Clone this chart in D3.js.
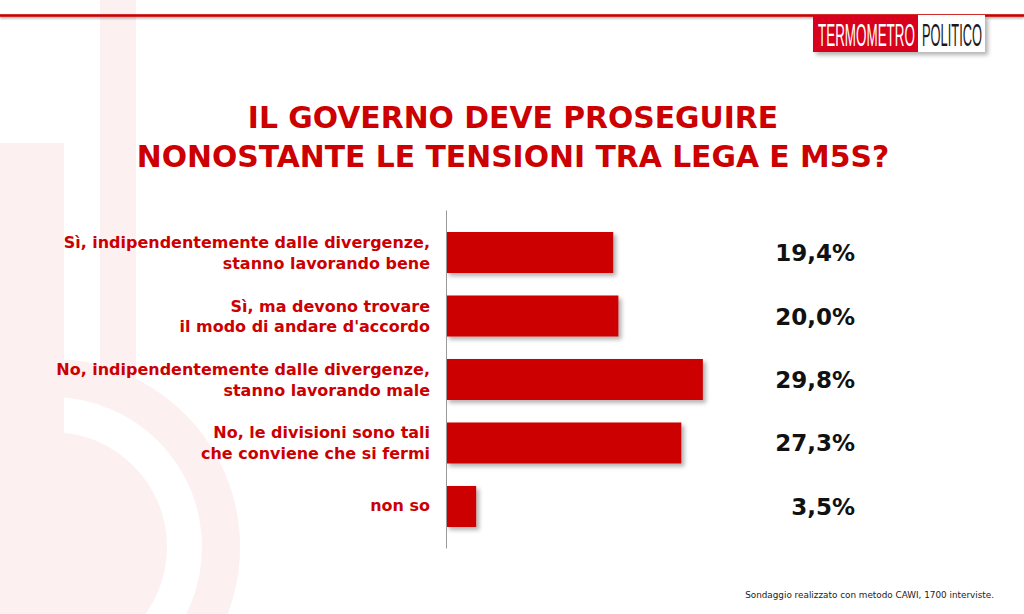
<!DOCTYPE html>
<html><head><meta charset="utf-8">
<script src="https://cdn.jsdelivr.net/npm/d3@7"></script>
<style>html,body{margin:0;padding:0;background:#fff;}svg{display:block;}</style>
</head><body>
<svg id="chart" width="1024" height="614"></svg>
<script>
const categories = [
  ["Sì, indipendentemente dalle divergenze,", "stanno lavorando bene"],
  ["Sì, ma devono trovare", "il modo di andare d'accordo"],
  ["No, indipendentemente dalle divergenze,", "stanno lavorando male"],
  ["No, le divisioni sono tali", "che conviene che si fermi"],
  ["non so"]
];
const values = [19.4, 20.0, 29.8, 27.3, 3.5];
const titleLines = ["IL GOVERNO DEVE PROSEGUIRE", "NONOSTANTE LE TENSIONI TRA LEGA E M5S?"];
const footnote = "Sondaggio realizzato con metodo CAWI, 1700 interviste.";
const logoParts = ["TERMOMETRO", "POLITICO"];

const RED = "#cc0000";
const svg = d3.select("#chart");
const defs = svg.append("defs");
const f = defs.append("filter").attr("id","shadow").attr("x","-10%").attr("y","-20%").attr("width","130%").attr("height","160%");
f.append("feDropShadow").attr("dx",3).attr("dy",3).attr("stdDeviation",2).attr("flood-color","#000").attr("flood-opacity",0.3);
const f2 = defs.append("filter").attr("id","lineshadow").attr("filterUnits","userSpaceOnUse")
  .attr("x",0).attr("y",0).attr("width",1024).attr("height",40);
f2.append("feDropShadow").attr("dx",0).attr("dy",1.5).attr("stdDeviation",1).attr("flood-color","#000").attr("flood-opacity",0.35);

// watermark (thermometer logo)
const wm = svg.append("g").attr("fill","#fcf0f0");
wm.append("rect").attr("x",100).attr("y",-10).attr("width",36).attr("height",418).attr("rx",8);
wm.append("rect").attr("x",0).attr("y",143).attr("width",64).attr("height",404);
wm.append("circle").attr("cx",52).attr("cy",547).attr("r",115);
wm.append("path")
  .attr("d", d3.arc()({innerRadius:150, outerRadius:188, startAngle:0, endAngle:2*Math.PI}))
  .attr("transform","translate(52,547)");

// top line
svg.append("rect").attr("x",0).attr("y",14.2).attr("width",1024).attr("height",2.6)
  .attr("fill",RED).attr("filter","url(#lineshadow)");

// logo
const logo = svg.append("g");
logo.append("rect").attr("x",813).attr("y",15).attr("width",172).attr("height",37).attr("fill","#fff").attr("filter","url(#shadow)");
logo.append("rect").attr("x",813).attr("y",15).attr("width",105).attr("height",37).attr("fill","#d8001c");
function logoText(str, x0, target, fill){
  const t = logo.append("text").attr("x",0).attr("y",0).attr("font-family","Liberation Sans, Arial, sans-serif")
    .attr("font-size",31).attr("fill",fill).text(str);
  const w = t.node().getComputedTextLength();
  t.attr("transform",`translate(${x0},45.5) scale(${target/w},1)`);
}
logoText(logoParts[0], 818, 97, "#fff");
logoText(logoParts[1], 922, 60, "#1a1a1a");

const FONT = "DejaVu Sans, Verdana, sans-serif";
function fit(sel, target){
  const w = sel.node().getComputedTextLength();
  const fs = parseFloat(sel.attr("font-size"));
  return fs * target / w;
}

// title
const t1 = svg.append("text").attr("x",513).attr("y",128).attr("text-anchor","middle")
  .attr("font-family",FONT).attr("font-weight","bold").attr("font-size",28).attr("fill",RED).text(titleLines[0]);
const t2 = svg.append("text").attr("x",513).attr("y",167).attr("text-anchor","middle")
  .attr("font-family",FONT).attr("font-weight","bold").attr("font-size",28).attr("fill",RED).text(titleLines[1]);
const tfs = fit(t2, 753);
t1.attr("font-size",tfs); t2.attr("font-size",tfs);

// scales
const idx = d3.range(categories.length);
const y = d3.scaleBand().domain(idx).range([232,527]).paddingInner(0.354).paddingOuter(0);
const x = d3.scaleLinear().domain([0,30]).range([446,704.6]);

// bars
svg.append("g").selectAll("rect").data(values).join("rect")
  .attr("x", x(0)).attr("y",(d,i)=>y(i)).attr("width",d=>x(d)-x(0)).attr("height",y.bandwidth())
  .attr("fill",RED).attr("filter","url(#shadow)");

// axis line
svg.append("g").attr("transform",`translate(${x(0)},0)`)
  .call(d3.axisLeft(d3.scaleLinear().range([210,548])).ticks(0).tickSize(0).tickFormat(""))
  .call(g=>g.select(".domain").attr("stroke","#9a9a9a").attr("stroke-width",1));

// category labels
const lab = svg.append("g").attr("font-family",FONT).attr("font-weight","bold").attr("fill",RED).attr("font-size",15).attr("text-anchor","end");
const labTexts = lab.selectAll("text").data(categories).join("text")
  .attr("x",430)
  .attr("y",(d,i)=> y(i)+y.bandwidth()/2 + (d.length===1 ? 5 : -4.5));
labTexts.selectAll("tspan").data(d=>d).join("tspan").attr("x",430).attr("dy",(d,j)=> j===0?0:20.5).text(d=>d);
const probe = lab.append("text").attr("font-size",15).text(categories[2][0]);
const lfs = fit(probe, 374); probe.remove();
lab.attr("font-size", lfs);

// value labels
const fmt = v => d3.format(".1f")(v).replace(".", ",") + "%";
svg.append("g").selectAll("text").data(values).join("text")
  .attr("x",855).attr("y",(d,i)=>y(i)+y.bandwidth()/2+8.5).attr("text-anchor","end")
  .attr("font-family",FONT).attr("font-weight","bold").attr("font-size",23).attr("fill","#111")
  .text(fmt);

// footnote
const fn = svg.append("text").attr("x",994).attr("y",598).attr("text-anchor","end")
  .attr("font-family",FONT).attr("font-size",10).attr("fill","#222").text(footnote);
fn.attr("font-size", fit(fn, 249));
</script>
</body></html>
